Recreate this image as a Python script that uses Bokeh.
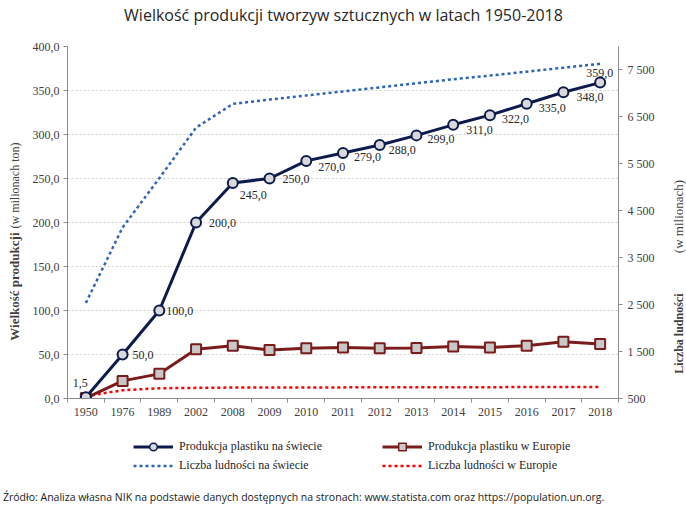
import math
from bokeh.plotting import figure
from bokeh.layouts import column
from bokeh.models import (Range1d, LinearAxis, FixedTicker, Legend, LegendItem, Label, Div)
from bokeh.core.properties import value
from bokeh.embed import file_html
from bokeh.resources import INLINE

# ---------------- data ----------------
years = ["1950", "1976", "1989", "2002", "2008", "2009", "2010", "2011",
         "2012", "2013", "2014", "2015", "2016", "2017", "2018"]
world_prod = [1.5, 50, 100, 200, 245, 250, 270, 279, 288, 299, 311, 322, 335, 348, 359]
europe_prod = [0.5, 20, 28, 56, 60, 55, 57, 58, 57, 57.5, 59, 58, 60, 64.4, 61.8]
world_pop = [2536, 4145, 5195, 6270, 6777, 6869, 6957, 7043, 7130, 7217, 7302, 7380, 7464, 7548, 7631]
europe_pop = [549, 676, 718, 727, 733, 735, 736, 737, 739, 740, 741, 742, 743, 745, 746]

prod_ticks = [0, 50, 100, 150, 200, 250, 300, 350, 400]
prod_tick_labels = ["0,0", "50,0", "100,0", "150,0", "200,0", "250,0", "300,0", "350,0", "400,0"]
pop_ticks = [500, 1500, 2500, 3500, 4500, 5500, 6500, 7500]
pop_tick_labels = ["500", "1 500", "2 500", "3 500", "4 500", "5 500", "6 500", "7 500"]
world_labels = ["1,5", "50,0", "100,0", "200,0", "245,0", "250,0", "270,0", "279,0",
                "288,0", "299,0", "311,0", "322,0", "335,0", "348,0", "359,0"]

# category slots (index based, centred in each slot)
x_pos = [i + 0.5 for i in range(len(years))]
x_bounds = list(range(len(years) + 1))

# label placement (pixel offsets from each point)
label_dx = [-13, 10, 7, 13, 7, 13, 12, 11, 9, 11, 13, 12, 12, 13, -14]
label_dy = [-14, 0, 0, 0, 12, 0, 6, 4.5, 4.5, 4, 5, 3.5, 4, 5, -10]

SERIF = "Liberation Serif"
NAVY = "#0d1b4c"
DRED = "#7b1c1c"
BLUE = "#2e64b5"
RED = "#ff0000"
AXIS = "#8c8c8c"
TXT = "#404040"


def blank_fig(h, xr, yr):
    f = figure(width=686, height=h, x_range=xr, y_range=yr,
               output_backend="svg", toolbar_location=None,
               x_axis_location=None, y_axis_location=None, min_border=0)
    f.outline_line_color = None
    f.grid.visible = False
    return f


# ---------------- title strip ----------------
pt = blank_fig(30, Range1d(0, 1), Range1d(0, 1))
pt.add_layout(Label(x=343, y=14, x_units="canvas", y_units="canvas",
                    text="Wielkość produkcji tworzyw sztucznych w latach 1950-2018",
                    text_align="center", text_baseline="middle", text_font="Open Sans",
                    text_font_size="16px", text_color="#262626"))

# ---------------- main chart ----------------
p = figure(width=686, height=396, x_range=Range1d(0, len(years)), y_range=Range1d(0, 400),
           output_backend="svg", toolbar_location=None,
           min_border_left=67, min_border_right=65, min_border_top=16, min_border_bottom=28)
p.outline_line_color = None
p.background_fill_color = "white"
p.border_fill_color = "white"
p.xgrid.visible = False
p.ygrid.grid_line_color = "#d0d0d0"
p.ygrid.grid_line_dash = "2 2"
p.ygrid.ticker = FixedTicker(ticks=prod_ticks)

ya = p.yaxis[0]
ya.ticker = FixedTicker(ticks=prod_ticks)
ya.major_label_overrides = dict(zip(prod_ticks, prod_tick_labels))
ya.major_tick_out = 4
ya.major_tick_in = 0
ya.minor_tick_line_color = None
ya.axis_line_color = AXIS
ya.major_tick_line_color = AXIS
ya.major_label_text_font = SERIF
ya.major_label_text_font_size = "12px"
ya.major_label_text_color = TXT
ya.major_label_standoff = 4

p.extra_y_ranges = {"pop": Range1d(500, 8000)}
ra = LinearAxis(y_range_name="pop", ticker=FixedTicker(ticks=pop_ticks),
                major_label_overrides=dict(zip(pop_ticks, pop_tick_labels)))
ra.major_tick_out = 4
ra.major_tick_in = 0
ra.minor_tick_line_color = None
ra.axis_line_color = AXIS
ra.major_tick_line_color = AXIS
ra.major_label_text_font = SERIF
ra.major_label_text_font_size = "12px"
ra.major_label_text_color = TXT
ra.major_label_standoff = 5
p.add_layout(ra, "right")

xa = p.xaxis[0]
xa.ticker = FixedTicker(ticks=x_pos, minor_ticks=x_bounds)
xa.major_label_overrides = dict(zip(x_pos, years))
xa.major_tick_line_color = None
xa.minor_tick_line_color = AXIS
xa.minor_tick_out = 4
xa.minor_tick_in = 0
xa.axis_line_color = AXIS
xa.major_label_text_font = SERIF
xa.major_label_text_font_size = "12px"
xa.major_label_text_color = TXT
xa.major_label_standoff = 3

p.line(x_pos, world_pop, y_range_name="pop", line_color=BLUE, line_width=2.5, line_dash="3 3")
p.line(x_pos, europe_pop, y_range_name="pop", line_color=RED, line_width=2.5, line_dash="3 3")
p.line(x_pos, europe_prod, line_color=DRED, line_width=3)
p.scatter(x_pos, europe_prod, marker="square", size=10, fill_color="#c8c8c8",
          line_color=DRED, line_width=2)
p.line(x_pos, world_prod, line_color=NAVY, line_width=3)
p.scatter(x_pos, world_prod, marker="circle", size=10, fill_color="#d9d9d9",
          line_color=NAVY, line_width=2)

p.text(x=x_pos, y=world_prod, text=world_labels, x_offset=label_dx, y_offset=label_dy,
       text_font=value(SERIF), text_font_size="12px", text_color="#262626",
       text_align="left", text_baseline="middle")

# axis titles (bold + normal parts), canvas coords of this figure
p.add_layout(Label(x=14, y=202, x_units="canvas", y_units="canvas", angle=math.pi / 2,
                   text="Wielkość produkcji", text_align="right", text_baseline="middle",
                   text_font=SERIF, text_font_style="bold", text_font_size="13px", text_color=TXT), "left")
p.add_layout(Label(x=14, y=198, x_units="canvas", y_units="canvas", angle=math.pi / 2,
                   text="(w milionach ton)", text_align="left", text_baseline="middle",
                   text_font=SERIF, text_font_size="12px", text_color=TXT), "left")
p.add_layout(Label(x=678, y=263, x_units="canvas", y_units="canvas", angle=math.pi / 2,
                   text="Liczba ludności", text_align="right", text_baseline="middle",
                   text_font=SERIF, text_font_style="bold", text_font_size="12px", text_color=TXT), "right")
p.add_layout(Label(x=678, y=186, x_units="canvas", y_units="canvas", angle=math.pi / 2,
                   text="(w milionach)", text_align="center", text_baseline="middle",
                   text_font=SERIF, text_font_size="13px", text_color=TXT), "right")

# ---------------- legend strip ----------------
# legend sample renderers reuse the series data; this strip's ranges keep them out of view
pl = blank_fig(64, Range1d(100, 101), Range1d(100000, 100001))
g_wl = pl.line(x_pos, world_prod, line_color=NAVY, line_width=3)
g_wp = pl.scatter(x_pos, world_prod, marker="circle", size=8, fill_color="#d9d9d9",
                  line_color=NAVY, line_width=1.5)
g_el = pl.line(x_pos, europe_prod, line_color=DRED, line_width=3)
g_ep = pl.scatter(x_pos, europe_prod, marker="square", size=8, fill_color="#c8c8c8",
                  line_color=DRED, line_width=1.5)
g_wpop = pl.line(x_pos, world_pop, line_color=BLUE, line_width=2.5, line_dash="3 3")
g_epop = pl.line(x_pos, europe_pop, line_color=RED, line_width=2.5, line_dash="3 3")

legend = Legend(items=[
    LegendItem(label="Produkcja plastiku na świecie", renderers=[g_wl, g_wp]),
    LegendItem(label="Produkcja plastiku w Europie", renderers=[g_el, g_ep]),
    LegendItem(label="Liczba ludności na świecie", renderers=[g_wpop]),
    LegendItem(label="Liczba ludności w Europie", renderers=[g_epop]),
], orientation="horizontal", ncols=2, location=(66, 15))
legend.padding = 0
legend.margin = 0
legend.spacing = 0
legend.glyph_width = 40
legend.glyph_height = 19
legend.label_height = 19
legend.label_width = 203
legend.label_standoff = 6
legend.label_text_font = SERIF
legend.label_text_font_size = "12px"
legend.label_text_color = "#262626"
legend.background_fill_alpha = 0
legend.border_line_color = None
pl.add_layout(legend, "center")

# ---------------- source note ----------------
src = Div(text="Źródło: Analiza własna NIK na podstawie danych dostępnych na stronach: www.statista.com oraz https://population.un.org.",
          width=683, height=19, margin=(0, 0, 0, 3),
          styles={"font-family": "'Open Sans'", "font-size": "10.5px", "color": "#1a1a1a",
                  "line-height": "14px", "white-space": "nowrap"})

layout = column(pt, p, pl, src, spacing=0)
open("out.html", "w").write(file_html(layout, INLINE))
